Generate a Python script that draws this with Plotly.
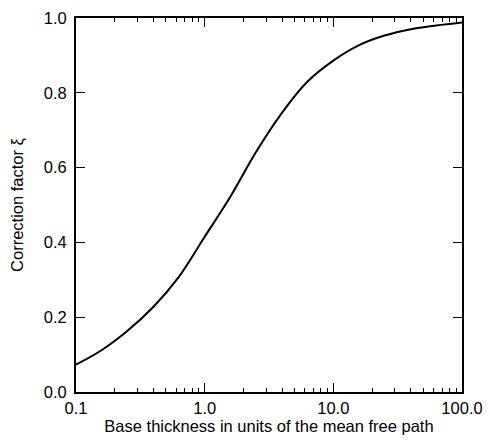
import plotly.graph_objects as go

thickness = [0.1, 0.16, 0.25, 0.4, 0.63, 1.0, 1.6, 2.5, 4.0, 6.3, 10.0, 16.0, 25.0, 40.0, 63.0, 100.0]
correction = [0.073, 0.113, 0.163, 0.228, 0.308, 0.415, 0.525, 0.641, 0.747, 0.830, 0.886, 0.928, 0.953, 0.970, 0.980, 0.988]

x_tickvals = [0.1, 1.0, 10.0, 100.0]
x_ticktext = ["0.1", "1.0", "10.0", "100.0"]
y_tickvals = [0.0, 0.2, 0.4, 0.6, 0.8, 1.0]
y_ticktext = ["0.0", "0.2", "0.4", "0.6", "0.8", "1.0"]

fig = go.Figure()
fig.add_trace(go.Scatter(
    x=thickness, y=correction, mode="lines",
    line=dict(color="black", width=2, shape="spline", smoothing=1.0),
    showlegend=False, hoverinfo="skip"))

font = dict(family="Liberation Sans, Arial, sans-serif", size=16.5, color="black")

# page body has an 8px margin, so the figure is offset by 8px
fig.update_layout(
    width=482, height=433,
    margin=dict(l=68, r=28, t=10, b=49),
    paper_bgcolor="white", plot_bgcolor="white",
    font=font,
)
fig.update_xaxes(
    type="log", range=[-1, 2],
    tickvals=x_tickvals, ticktext=x_ticktext,
    ticks="inside", ticklen=9, tickwidth=1, tickcolor="black",
    minor=dict(ticks="inside", ticklen=4, tickwidth=1, tickcolor="black", dtick="D1", showgrid=False),
    showline=True, linecolor="black", linewidth=2, mirror="allticks",
    showgrid=False, zeroline=False,
    ticklabeloverflow="allow",
    title=dict(text="Base thickness in units of the mean free path", standoff=4, font=font),
    automargin=False,
)
fig.update_yaxes(
    range=[0, 1],
    tickvals=y_tickvals, ticktext=y_ticktext,
    ticks="inside", ticklen=9, tickwidth=1, tickcolor="black",
    ticklabelstandoff=4,
    ticklabeloverflow="allow",
    showline=True, linecolor="black", linewidth=2, mirror="allticks",
    showgrid=False, zeroline=False,
    title=dict(text="Correction factor ξ", standoff=19, font=font),
    automargin=False,
)

fig.write_html("out.html")
